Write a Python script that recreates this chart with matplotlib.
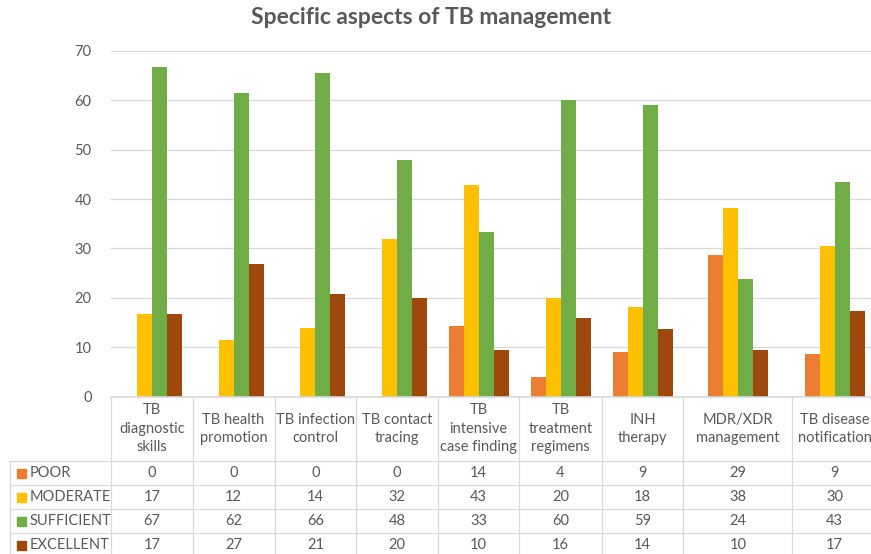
import numpy as np
import matplotlib.pyplot as plt
from matplotlib.patches import Rectangle

plt.rcParams['font.family'] = ['Lato', 'DejaVu Sans']

categories = ['TB\ndiagnostic\nskills', 'TB health\npromotion', 'TB infection\ncontrol',
              'TB contact\ntracing', 'TB\nintensive\ncase finding', 'TB\ntreatment\nregimens',
              'INH\ntherapy', 'MDR/XDR\nmanagement', 'TB disease\nnotification']
series_names = ['POOR', 'MODERATE', 'SUFFICIENT', 'EXCELLENT']
poor = [0, 0, 0, 0, 14.29, 4.0, 9.09, 28.57, 8.70]
moderate = [16.67, 11.54, 13.79, 32.0, 42.86, 20.0, 18.18, 38.10, 30.43]
sufficient = [66.67, 61.54, 65.52, 48.0, 33.33, 60.0, 59.09, 23.81, 43.48]
excellent = [16.67, 26.92, 20.69, 20.0, 9.52, 16.0, 13.64, 9.52, 17.39]
y_ticks = [0, 10, 20, 30, 40, 50, 60, 70]

colors = ['#ED7D31', '#FFC000', '#70AD47', '#9E480E']
TXT = '#595959'
GRID = '#D9D9D9'
W, H = 871, 554

# column edges of the category axis / data table, in pixels (last column runs off the picture)
edges = np.array([111, 192.5, 274.5, 356.3, 438, 519.3, 601.7, 683.3, 792.3, 877])
centers = (edges[:-1] + edges[1:]) / 2
y0, y70 = 396.5, 51
bar_w = 15
row_lines = [461, 485, 509, 533, 557]

fig = plt.figure(figsize=(W / 100, H / 100), dpi=100)
ax = fig.add_axes([edges[0] / W, (H - y0) / H, (edges[-1] - edges[0]) / W, (y0 - y70) / H])
ax.set_xlim(edges[0], edges[-1])
ax.set_ylim(0, 70)

data = [poor, moderate, sufficient, excellent]
for k, (vals, c) in enumerate(zip(data, colors)):
    ax.bar(centers + (k - 1.5) * bar_w, vals, width=bar_w, color=c, zorder=3)

ax.set_yticks(y_ticks)
ax.set_xticks([])
ax.tick_params(axis='y', length=0, pad=14, labelsize=10.5, labelcolor=TXT)
ax.yaxis.grid(True, color=GRID, lw=0.9, zorder=0)
for s in ax.spines.values():
    s.set_visible(False)

fig.text(0.495, 1 - 18 / H, 'Specific aspects of TB management', ha='center', va='center',
         fontsize=16.5, fontweight='bold', color=TXT)

# data table drawn on an overlay in pixel coordinates
tab = fig.add_axes([0, 0, 1, 1], zorder=5)
tab.set_xlim(0, W)
tab.set_ylim(H, 0)
tab.axis('off')
tab.patch.set_visible(False)

tab.plot([edges[0], edges[-1]], [y0, y0], color=GRID, lw=1.2)
for e in edges:
    tab.plot([e, e], [y0, row_lines[-1]], color=GRID, lw=0.9)
tab.plot([10, 10], [row_lines[0], row_lines[-1]], color=GRID, lw=0.9)
for r in row_lines[:-1]:
    tab.plot([10, edges[-1]], [r, r], color=GRID, lw=0.9)

for x, lab in zip(centers, categories):
    tab.text(x, (y0 + row_lines[0]) / 2, lab, ha='center', va='center', fontsize=10.5,
             color=TXT, linespacing=1.4)

for i, (name, vals, c) in enumerate(zip(series_names, data, colors)):
    yc = (row_lines[i] + row_lines[i + 1]) / 2
    tab.add_patch(Rectangle((17, yc - 4.5), 9, 9, color=c))
    tab.text(30, yc, name, ha='left', va='center', fontsize=10.5, color=TXT)
    for x, v in zip(centers, vals):
        tab.text(x, yc, f'{v:.0f}', ha='center', va='center', fontsize=10.5, color=TXT)

fig.savefig('out.png', dpi=100)
